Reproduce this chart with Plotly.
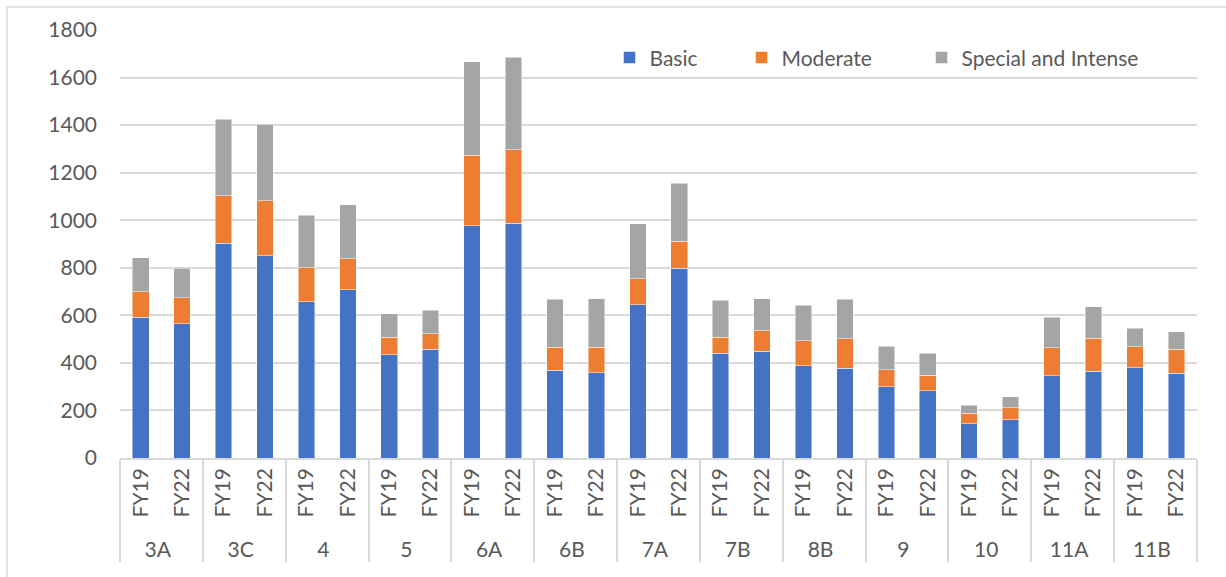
import plotly.graph_objects as go

groups = ["3A", "3C", "4", "5", "6A", "6B", "7A", "7B", "8B", "9", "10", "11A", "11B"]
years = ["FY19", "FY22"]

basic = [591, 565, 903, 851, 658, 708, 435, 458, 977, 987, 369, 359,
         645, 798, 440, 448, 387, 378, 299, 282, 144, 160, 346, 365, 379, 357]
moderate = [108, 110, 200, 231, 142, 131, 73, 65, 296, 309, 96, 106,
            109, 113, 68, 88, 106, 123, 73, 65, 44, 51, 117, 138, 88, 101]
special = [143, 124, 322, 322, 220, 226, 98, 99, 394, 389, 203, 204,
           231, 244, 155, 133, 149, 167, 98, 94, 33, 46, 128, 133, 78, 73]

x_outer = [g for g in groups for _ in years]
x_inner = [y for _ in groups for y in years]

colors = {"Basic": "#4472C4", "Moderate": "#ED7D31", "Special and Intense": "#A5A5A5"}
font_family = "Lato, 'Open Sans', sans-serif"
text_color = "#595959"

series = [("Basic", basic, "legend"), ("Moderate", moderate, "legend2"),
          ("Special and Intense", special, "legend3")]

fig = go.Figure()
for name, vals, lg in series:
    fig.add_trace(go.Bar(
        x=[x_outer, x_inner], y=vals, name=name, legend=lg,
        marker=dict(color=colors[name], line=dict(color="rgba(255,255,255,0.6)", width=0.8)),
    ))

legend_common = dict(orientation="h", yanchor="middle", xanchor="left", y=0.935,
                     font=dict(size=21, color=text_color, family=font_family),
                     bgcolor="rgba(0,0,0,0)", itemwidth=30)

fig.update_layout(
    width=1226, height=577,
    barmode="stack", bargap=0.6,
    paper_bgcolor="white", plot_bgcolor="white",
    margin=dict(l=120, r=29, t=30, b=119),
    font=dict(family=font_family, size=21, color=text_color),
    legend=dict(x=0.4545, **legend_common),
    legend2=dict(x=0.5771, **legend_common),
    legend3=dict(x=0.7442, **legend_common),
    showlegend=True,
)
fig.update_yaxes(range=[0, 1800], dtick=200, showgrid=True, gridcolor="#D9D9D9", gridwidth=1.5,
                 zeroline=False, showline=False, tickfont=dict(size=21, color=text_color),
                 ticks="", ticklabelstandoff=22)
fig.update_xaxes(type="multicategory", tickangle=-90, showline=True, linecolor="#D9D9D9",
                 linewidth=1.5, showdividers=True, dividercolor="#D9D9D9", dividerwidth=1.5,
                 tickfont=dict(size=21, color=text_color), ticks="")

fig.add_shape(type="rect", xref="paper", yref="paper",
              x0=-0.1049, x1=1.1, y0=-0.4, y1=1.0537,
              line=dict(color="#D9D9D9", width=1.5), fillcolor="rgba(0,0,0,0)", layer="below")

fig.write_html("out.html", config={"displayModeBar": False},
               post_script="document.body.style.margin='0';document.body.style.padding='0';")
